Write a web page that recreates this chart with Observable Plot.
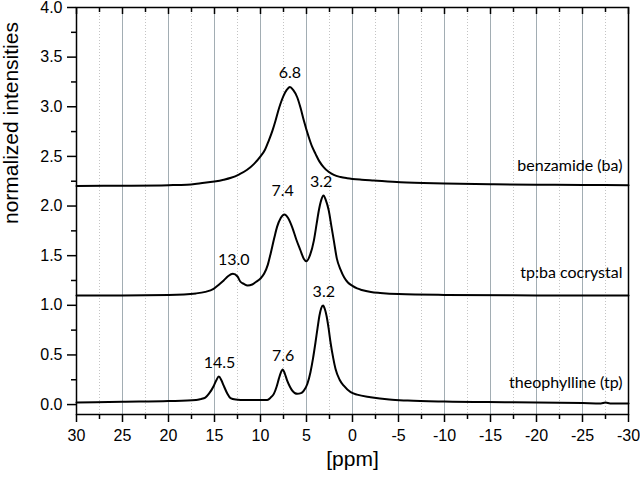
<!DOCTYPE html>
<html><head><meta charset="utf-8">
<script src="https://cdn.jsdelivr.net/npm/d3@7"></script>
<script src="https://cdn.jsdelivr.net/npm/@observablehq/plot@0.6"></script>
<style>
html,body{margin:0;padding:0;background:#fff;}
#chart{width:640px;height:478px;overflow:hidden;}
</style></head><body><div id="chart"></div>
<script>
// benzamide (ba), offset baseline ~2.2
const baPpm = [30, 25, 20, 18, 16.5, 15, 14, 13.2, 12.3, 11.45, 10.7, 10.0, 9.5, 9.1, 8.7, 8.37, 8.1, 7.83, 7.5, 7.15, 6.8, 6.45, 6.01, 5.65, 5.29, 4.75, 4.4, 4.02, 3.6, 3.12, 2.6, 2.03, 1.3, 0.58, -1, -2.32, -5.2, -10, -15, -20, -25, -30];
const baInt = [2.203, 2.205, 2.21, 2.215, 2.23, 2.247, 2.265, 2.285, 2.32, 2.365, 2.425, 2.5, 2.57, 2.66, 2.76, 2.86, 2.95, 3.03, 3.11, 3.17, 3.2, 3.17, 3.096, 2.99, 2.862, 2.693, 2.6, 2.526, 2.45, 2.39, 2.345, 2.313, 2.292, 2.28, 2.265, 2.257, 2.24, 2.228, 2.22, 2.215, 2.212, 2.21];
// tp:ba cocrystal, offset baseline ~1.1
const cocPpm = [30, 25, 20, 17, 16, 15.1, 14.5, 14.0, 13.5, 13.0, 12.5, 12.2, 11.8, 11.4, 10.9, 10.5, 10.0, 9.6, 9.2, 8.9, 8.5, 8.2, 7.8, 7.4, 7.0, 6.55, 6.1, 5.65, 5.3, 5.0, 4.6, 4.2, 3.9, 3.66, 3.4, 3.15, 2.9, 2.58, 2.3, 2.03, 1.7, 1.3, 0.9, 0.5, 0, -0.5, -1, -2, -3, -5, -10, -20, -30];
const cocInt = [1.10, 1.10, 1.105, 1.12, 1.135, 1.166, 1.21, 1.25, 1.295, 1.317, 1.29, 1.24, 1.215, 1.20, 1.21, 1.235, 1.27, 1.32, 1.41, 1.52, 1.68, 1.79, 1.88, 1.915, 1.88, 1.786, 1.66, 1.552, 1.47, 1.444, 1.51, 1.652, 1.82, 1.955, 2.06, 2.106, 2.06, 1.955, 1.80, 1.652, 1.47, 1.36, 1.28, 1.23, 1.195, 1.17, 1.155, 1.135, 1.125, 1.113, 1.105, 1.10, 1.10];
// theophylline (tp)
const tpPpm = [30, 25, 20, 17, 16.5, 16, 15.6, 15.07, 14.8, 14.53, 14.25, 14.0, 13.6, 13.26, 12.7, 12.17, 10, 9.27, 8.9, 8.55, 8.25, 8.01, 7.8, 7.58, 7.35, 7.1, 6.8, 6.55, 6.01, 5.6, 5.29, 4.9, 4.57, 4.3, 4.02, 3.8, 3.59, 3.4, 3.2, 3.0, 2.83, 2.6, 2.39, 2.1, 1.85, 1.4, 0.95, 0.2, -0.5, -1.96, -4, -6, -10, -17, -25, -27, -27.5, -28, -30];
const tpInt = [0.02, 0.028, 0.035, 0.045, 0.055, 0.07, 0.11, 0.19, 0.245, 0.282, 0.245, 0.19, 0.11, 0.064, 0.05, 0.047, 0.045, 0.047, 0.07, 0.108, 0.18, 0.259, 0.32, 0.353, 0.31, 0.242, 0.18, 0.141, 0.108, 0.115, 0.141, 0.21, 0.326, 0.46, 0.628, 0.77, 0.897, 0.97, 0.997, 0.96, 0.897, 0.77, 0.628, 0.47, 0.36, 0.25, 0.19, 0.125, 0.1, 0.074, 0.05, 0.04, 0.03, 0.023, 0.015, 0.012, 0.02, 0.012, 0.01];

const seriesNames = ["benzamide (ba)", "tp:ba cocrystal", "theophylline (tp)"];
const seriesLabelY = [2.408, 1.323, 0.219];

const peakLabels = ["6.8", "7.4", "3.2", "13.0", "14.5", "7.6", "3.2"];
const peakLabelPpm = [6.8, 7.6, 3.4, 12.9, 14.46, 7.53, 3.12];
const peakLabelInt = [3.345, 2.156, 2.24, 1.458, 0.42, 0.493, 1.14];

const xMajorTicks = [30, 25, 20, 15, 10, 5, 0, -5, -10, -15, -20, -25, -30];
const xMinorTicks = [27.5, 22.5, 17.5, 12.5, 7.5, 2.5, -2.5, -7.5, -12.5, -17.5, -22.5, -27.5];
const yMajorTicks = [0, 0.5, 1.0, 1.5, 2.0, 2.5, 3.0, 3.5, 4.0];
const yMinorTicks = [0.25, 0.75, 1.25, 1.75, 2.25, 2.75, 3.25, 3.75];

const xTitle = "[ppm]";
const yTitle = "normalized intensities";

const rows = [];
[[baPpm, baInt], [cocPpm, cocInt], [tpPpm, tpInt]].forEach(([p, v], i) => {
  p.forEach((d, j) => rows.push({series: seriesNames[i], ppm: d, int: v[j]}));
});
const peakRows = peakLabels.map((t, i) => ({label: t, ppm: peakLabelPpm[i], int: peakLabelInt[i]}));
const seriesRows = seriesNames.map((s, i) => ({label: s, int: seriesLabelY[i]}));

const annoFont = "Lato, 'Open Sans', sans-serif";
const W = 640, H = 478, ML = 76, MR = 12, MT = 7, MB = 64;
const frameH = H - MT - MB;

const chart = Plot.plot({
  width: W, height: H,
  marginLeft: ML, marginRight: MR, marginTop: MT, marginBottom: MB,
  style: {fontFamily: "'Liberation Sans', Arial, sans-serif", background: "#fff", color: "#000"},
  x: {domain: [30, -30], label: null},
  y: {domain: [-0.1, 4.0], label: null},
  marks: [
    Plot.ruleX(xMinorTicks, {stroke: "#c4c4c4", strokeDasharray: "1,2", strokeWidth: 1}),
    Plot.ruleX(xMajorTicks.filter(d => d > -30 && d < 30), {stroke: "#a2adb3", strokeWidth: 1}),
    Plot.line(rows, {x: "ppm", y: "int", z: "series", stroke: "#000", strokeWidth: 2, curve: "monotone-x"}),
    Plot.frame({stroke: "#000", strokeWidth: 1.5}),
    // inward ticks along the top edge
    Plot.ruleX(xMajorTicks, {insetBottom: frameH - 7, stroke: "#000", strokeWidth: 1.5}),
    Plot.ruleX(xMinorTicks, {insetBottom: frameH - 5, stroke: "#000", strokeWidth: 1.5}),
    Plot.axisX(xMajorTicks, {anchor: "bottom", tickSize: 8, tickPadding: 7, fontSize: 16, strokeWidth: 1.5, tickFormat: d => String(d), label: null}),
    Plot.axisX(xMinorTicks, {anchor: "bottom", tickSize: 5, strokeWidth: 1.5, tickFormat: () => "", label: null}),
    Plot.axisY(yMajorTicks, {anchor: "left", tickSize: 9, tickPadding: 5, fontSize: 16, strokeWidth: 1.5, tickFormat: d3.format(".1f"), label: null}),
    Plot.axisY(yMinorTicks, {anchor: "left", tickSize: 5, strokeWidth: 1.5, tickFormat: () => "", label: null}),
    Plot.text(peakRows, {x: "ppm", y: "int", text: "label", fontFamily: annoFont, fontSize: 16, fill: "#000"}),
    Plot.text(seriesRows, {y: "int", text: "label", frameAnchor: "right", textAnchor: "end", dx: -6, fontFamily: annoFont, fontSize: 16, fill: "#000"}),
    Plot.text([xTitle], {text: d => d, frameAnchor: "bottom", dy: 51, fontSize: 21, fill: "#000"}),
    Plot.text([yTitle], {text: d => d, frameAnchor: "left", rotate: -90, dx: -65, dy: 13, fontSize: 21, fill: "#000"})
  ]
});
document.getElementById("chart").appendChild(chart);
</script>
</body></html>
